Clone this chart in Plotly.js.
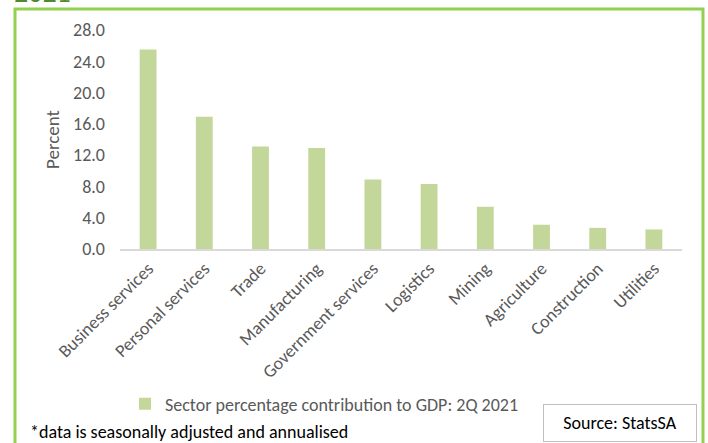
<!DOCTYPE html>
<html>
<head>
<meta charset="utf-8">
<script src="https://cdn.plot.ly/plotly-3.0.1.min.js"></script>
<style>
html,body{margin:0;padding:0;background:#fff;}
#chart{width:708px;height:443px;}
</style>
</head>
<body>
<div id="chart"></div>
<script>
const sectors = ["Business services","Personal services","Trade","Manufacturing","Government services","Logistics","Mining","Agriculture","Construction","Utilities"];
const contribution = [25.5, 16.9, 13.1, 12.9, 8.9, 8.3, 5.4, 3.1, 2.7, 2.5];
const yTicks = [0, 4, 8, 12, 16, 20, 24, 28];
const yTickLabels = ["0.0","4.0","8.0","12.0","16.0","20.0","24.0","28.0"];
const seriesName = "Sector percentage contribution to GDP: 2Q 2021";

const W = 708, H = 443;
const M = {l:120, r:26, t:30, b:194};
const PW = W - M.l - M.r, PH = H - M.t - M.b;
const px = x => (x - M.l) / PW;
const py = y => (H - M.b - y) / PH;

const FONT = "Carlito, 'Liberation Sans Narrow', 'Liberation Sans', Arial, sans-serif";
const GRAY = "#595959";

const trace = {
  type: "bar",
  x: sectors,
  y: contribution,
  name: seriesName,
  marker: {color: "#c4d79b", line: {width: 0}},
  showlegend: true,
  hoverinfo: "x+y"
};

const layout = {
  width: W, height: H,
  margin: M,
  paper_bgcolor: "#fff",
  plot_bgcolor: "#fff",
  font: {family: FONT, color: GRAY, size: 18},
  bargap: 0.7,
  showlegend: true,
  xaxis: {
    type: "category",
    tickangle: -45,
    showline: true, linecolor: "#d9d9d9", linewidth: 2,
    showgrid: false, zeroline: false,
    ticks: "",
    tickfont: {family: FONT, size: 18, color: GRAY},
    fixedrange: true
  },
  yaxis: {
    range: [0, 28],
    tickvals: yTicks,
    ticktext: yTickLabels,
    showgrid: false, zeroline: false, showline: false,
    ticks: "",
    ticklabelstandoff: 14,
    tickfont: {family: FONT, size: 18, color: GRAY},
    title: {text: "Percent", font: {family: FONT, size: 19, color: GRAY}, standoff: 8},
    fixedrange: true
  },
  legend: {
    orientation: "h",
    x: px(125), xanchor: "left",
    y: py(404), yanchor: "middle",
    font: {family: FONT, size: 18, color: GRAY},
    bgcolor: "rgba(0,0,0,0)"
  },
  shapes: [
    {type: "rect", xref: "paper", yref: "paper",
     x0: px(15), x1: px(703), y0: py(9), y1: py(460),
     line: {color: "#92d050", width: 3}, fillcolor: "rgba(0,0,0,0)", layer: "above"}
  ],
  annotations: [
    {text: "2021", xref: "paper", yref: "paper", x: px(12), y: py(12),
     xanchor: "left", yanchor: "bottom", showarrow: false,
     font: {family: FONT, size: 28, color: "#4f8a2b"}},
    {text: "*data is seasonally adjusted and annualised", xref: "paper", yref: "paper",
     x: px(28), y: py(432), xanchor: "left", yanchor: "middle", showarrow: false,
     font: {family: FONT, size: 18, color: "#000"}},
    {text: "Source: StatsSA", xref: "paper", yref: "paper",
     x: px(620), y: py(423), xanchor: "center", yanchor: "middle", showarrow: false,
     width: 150, height: 34, bordercolor: "#bfbfbf", borderwidth: 1, borderpad: 1,
     bgcolor: "#fff",
     font: {family: FONT, size: 18, color: "#000"}}
  ]
};

Plotly.newPlot("chart", [trace], layout, {displayModeBar: false, staticPlot: true});
</script>
</body>
</html>
